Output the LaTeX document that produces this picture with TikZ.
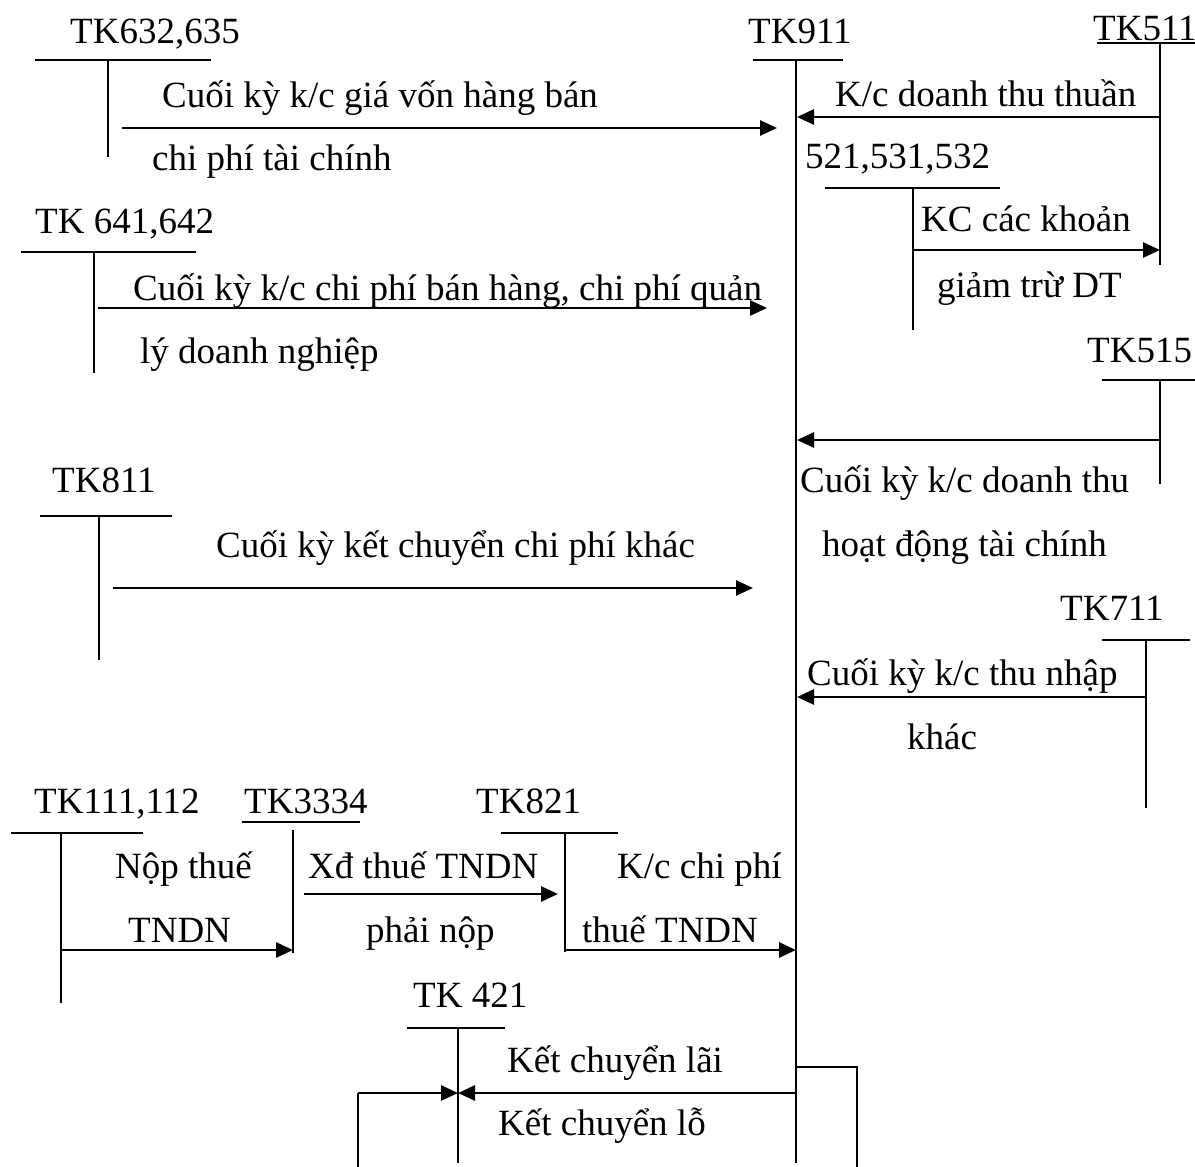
\documentclass[tikz,border=0pt]{standalone}
\usepackage{fontspec}
\setmainfont{Liberation Serif}
\usetikzlibrary{arrows.meta}

\begin{document}
\begin{tikzpicture}[x=1pt,y=-1pt,
  tline/.style={line width=2pt},
  flow/.style={line width=2.8pt,-{Triangle[length=17pt,width=15pt]}},
  lbl/.style={anchor=base west,inner sep=0pt,font=\fontsize{37}{44}\selectfont},
]
\useasboundingbox (0,0) rectangle (1195,1167);

% ---------- T-account skeletons ----------
% TK911 (central account)
\coordinate (k911l) at (753,60);  \coordinate (k911r) at (843,60);
\coordinate (k911t) at (796,60);  \coordinate (k911b) at (796,1163);
% TK632,635
\coordinate (k632l) at (35,60);   \coordinate (k632r) at (211,60);
\coordinate (k632t) at (108,60);  \coordinate (k632b) at (108,157);
% TK511
\coordinate (k511l) at (1097,43); \coordinate (k511r) at (1195,43);
\coordinate (k511t) at (1160,43); \coordinate (k511b) at (1160,265);
% 521,531,532
\coordinate (k521l) at (825,188); \coordinate (k521r) at (1000,188);
\coordinate (k521t) at (913,188); \coordinate (k521b) at (913,330);
% TK641,642
\coordinate (k641l) at (21,252);  \coordinate (k641r) at (196,252);
\coordinate (k641t) at (94,252);  \coordinate (k641b) at (94,373);
% TK515
\coordinate (k515l) at (1102,380); \coordinate (k515r) at (1195,380);
\coordinate (k515t) at (1160,380); \coordinate (k515b) at (1160,484);
% TK811
\coordinate (k811l) at (40,516);  \coordinate (k811r) at (172,516);
\coordinate (k811t) at (99,516);  \coordinate (k811b) at (99,660);
% TK711
\coordinate (k711l) at (1102,640); \coordinate (k711r) at (1190,640);
\coordinate (k711t) at (1146,640); \coordinate (k711b) at (1146,808);
% TK111,112
\coordinate (k111l) at (11,833);  \coordinate (k111r) at (143,833);
\coordinate (k111t) at (61,833);  \coordinate (k111b) at (61,1003);
% TK3334
\coordinate (k333l) at (242,822); \coordinate (k333r) at (360,822);
\coordinate (k333t) at (293,830); \coordinate (k333b) at (293,953);
% TK821
\coordinate (k821l) at (501,833); \coordinate (k821r) at (618,833);
\coordinate (k821t) at (565,833); \coordinate (k821b) at (565,952);
% TK421
\coordinate (k421l) at (407,1028); \coordinate (k421r) at (505,1028);
\coordinate (k421t) at (458,1028); \coordinate (k421b) at (458,1163);

\foreach \k in {911,632,511,521,641,515,811,711,111,821,421}{
  \draw[tline] (k\k l) -- (k\k r);
  \draw[tline] (k\k t) -- (k\k b);
}
\draw[tline] (k333l) -- (k333r);
\draw[tline] (k333t) -- (k333b);

% ---------- account titles ----------
\node[lbl] (t632) at (70,43)   {TK632,635};
\node[lbl] (t911) at (748,43)  {TK911};
\node[lbl] (t511) at (1093,40) {TK511};
\node[lbl] (t521) at (805,168) {521,531,532};
\node[lbl] (t641) at (35,233)  {TK 641,642};
\node[lbl] (t515) at (1087,362) {TK515};
\node[lbl] (t811) at (52,492)  {TK811};
\node[lbl] (t711) at (1060,620) {TK711};
\node[lbl] (t111) at (34,813)  {TK111,112};
\node[lbl] (t333) at (244,813) {TK3334};
\node[lbl] (t821) at (476,813) {TK821};
\node[lbl] (t421) at (413,1007) {TK 421};

% ---------- transfer labels ----------
\node[lbl] (l1a) at (162,107)  {Cuối kỳ k/c giá vốn hàng bán};
\node[lbl] (l1b) at (152,170)  {chi phí tài chính};
\node[lbl] (l2)  at (835,106)  {K/c doanh thu thuần};
\node[lbl] (l3a) at (921,231)  {KC các khoản};
\node[lbl] (l3b) at (937,297)  {giảm trừ DT};
\node[lbl] (l4a) at (133,300)  {Cuối kỳ k/c chi phí bán hàng, chi phí quản};
\node[lbl] (l4b) at (140,363)  {lý doanh nghiệp};
\node[lbl] (l5a) at (800,492)  {Cuối kỳ k/c doanh thu};
\node[lbl] (l5b) at (822,556)  {hoạt động tài chính};
\node[lbl] (l6)  at (216,557)  {Cuối kỳ kết chuyển chi phí khác};
\node[lbl] (l7a) at (807,685)  {Cuối kỳ k/c thu nhập};
\node[lbl] (l7b) at (907,749)  {khác};
\node[lbl] (l8a) at (115,878)  {Nộp thuế};
\node[lbl] (l8b) at (128,942)  {TNDN};
\node[lbl] (l9a) at (308,878)  {Xđ thuế TNDN};
\node[lbl] (l9b) at (366,942)  {phải nộp};
\node[lbl] (l10a) at (617,878) {K/c chi phí};
\node[lbl] (l10b) at (582,942) {thuế TNDN};
\node[lbl] (l11a) at (507,1072) {Kết chuyển lãi};
\node[lbl] (l11b) at (498,1135) {Kết chuyển lỗ};

% ---------- connector end points ----------
\coordinate (a1s) at (122,128);  \coordinate (a1e) at (777,128);
\coordinate (a2s) at (1160,117); \coordinate (a2e) at (797,117);
\coordinate (a3s) at (913,250);  \coordinate (a3e) at (1160,250);
\coordinate (a4s) at (98,308);   \coordinate (a4e) at (767,308);
\coordinate (a5s) at (1160,440); \coordinate (a5e) at (797,440);
\coordinate (a6s) at (113,588);  \coordinate (a6e) at (753,588);
\coordinate (a7s) at (1146,697); \coordinate (a7e) at (797,697);
\coordinate (a8s) at (61,950);   \coordinate (a8e) at (293,950);
\coordinate (a9s) at (304,894);  \coordinate (a9e) at (558,894);
\coordinate (a10s) at (565,950); \coordinate (a10e) at (796,950);
\coordinate (a11s) at (796,1093); \coordinate (a11e) at (458,1093);
\coordinate (a12s) at (796,1067); \coordinate (a12c) at (857,1067);
\coordinate (a12d) at (857,1167);
\coordinate (a13s) at (358,1167); \coordinate (a13c) at (358,1093);
\coordinate (a13e) at (458,1093);

% ---------- transfers ----------
\draw[flow] (a1s) -- (a1e);
\draw[flow] (a2s) -- (a2e);
\draw[flow] (a3s) -- (a3e);
\draw[flow] (a4s) -- (a4e);
\draw[flow] (a5s) -- (a5e);
\draw[flow] (a6s) -- (a6e);
\draw[flow] (a7s) -- (a7e);
\draw[flow] (a8s) -- (a8e);
\draw[flow] (a9s) -- (a9e);
\draw[flow] (a10s) -- (a10e);
\draw[flow] (a11s) -- (a11e);
\draw[tline] (a12s) -- (a12c) -- (a12d);
\draw[tline] (a13s) -- (a13c);
\draw[flow] (a13c) -- (a13e);
\end{tikzpicture}
\end{document}
